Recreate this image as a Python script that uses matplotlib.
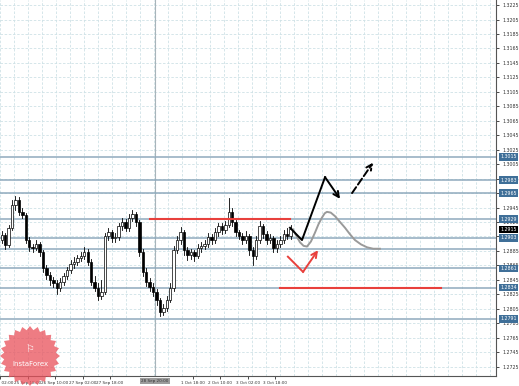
import numpy as np
import matplotlib.pyplot as plt
from matplotlib.patches import Polygon, Rectangle
from matplotlib.transforms import blended_transform_factory

# 2-hour candles
closes = [1.2907, 1.2893, 1.2917, 1.2948, 1.2955, 1.2939, 1.2935, 1.2900, 1.2890, 1.2889,
          1.2895, 1.2883, 1.2861, 1.2852, 1.2845, 1.2841, 1.2834, 1.2842, 1.2850, 1.2859,
          1.2867, 1.2870, 1.2875, 1.2878, 1.2883, 1.2870, 1.2842, 1.2834, 1.2823, 1.2828,
          1.2906, 1.2911, 1.2903, 1.2904, 1.2919, 1.2925, 1.2917, 1.2931, 1.2936, 1.2925,
          1.2883, 1.2856, 1.2842, 1.2835, 1.2828, 1.2817, 1.2800, 1.2806, 1.2817, 1.2834,
          1.2886, 1.2900, 1.2911, 1.2886, 1.2879, 1.2883, 1.2878, 1.2889, 1.2892, 1.2895,
          1.2904, 1.2900, 1.2911, 1.2919, 1.2914, 1.2921, 1.2939, 1.2925, 1.2911, 1.2906,
          1.2900, 1.2906, 1.2886, 1.2878, 1.2900, 1.2919, 1.2908, 1.2900, 1.2903, 1.2889,
          1.2895, 1.2900, 1.2908, 1.2906, 1.2915]
highs = [1.2912, 1.2910, 1.2921, 1.2956, 1.2961, 1.2959, 1.2944, 1.2937, 1.2904, 1.2895,
         1.2900, 1.2898, 1.2886, 1.2866, 1.2856, 1.2849, 1.2845, 1.2847, 1.2855, 1.2863,
         1.2872, 1.2876, 1.2880, 1.2884, 1.2890, 1.2887, 1.2874, 1.2850, 1.2840, 1.2845,
         1.2910, 1.2916, 1.2914, 1.2910, 1.2924, 1.2930, 1.2929, 1.2936, 1.2942, 1.2939,
         1.2928, 1.2888, 1.2862, 1.2848, 1.2840, 1.2832, 1.2820, 1.2812, 1.2822, 1.2840,
         1.2892, 1.2906, 1.2918, 1.2914, 1.2890, 1.2888, 1.2886, 1.2894, 1.2898, 1.2900,
         1.2910, 1.2908, 1.2916, 1.2924, 1.2923, 1.2927, 1.2958, 1.2944, 1.2928, 1.2914,
         1.2910, 1.2912, 1.2909, 1.2890, 1.2905, 1.2926, 1.2922, 1.2912, 1.2908, 1.2906,
         1.2900, 1.2905, 1.2914, 1.2917, 1.2921]
lows = [1.2896, 1.2888, 1.2890, 1.2914, 1.2942, 1.2934, 1.2930, 1.2896, 1.2885, 1.2884,
        1.2886, 1.2878, 1.2856, 1.2846, 1.2838, 1.2835, 1.2826, 1.2830, 1.2838, 1.2846,
        1.2855, 1.2862, 1.2865, 1.2871, 1.2874, 1.2866, 1.2838, 1.2829, 1.2817, 1.2818,
        1.2825, 1.2900, 1.2898, 1.2898, 1.2900, 1.2914, 1.2912, 1.2913, 1.2926, 1.2920,
        1.2878, 1.2850, 1.2836, 1.2830, 1.2822, 1.2810, 1.2795, 1.2797, 1.2802, 1.2814,
        1.2830, 1.2882, 1.2895, 1.2880, 1.2872, 1.2874, 1.2871, 1.2875, 1.2884, 1.2887,
        1.2891, 1.2894, 1.2896, 1.2906, 1.2909, 1.2910, 1.2918, 1.2920, 1.2906, 1.2901,
        1.2895, 1.2896, 1.2880, 1.2866, 1.2874, 1.2896, 1.2903, 1.2895, 1.2896, 1.2884,
        1.2884, 1.2891, 1.2896, 1.2901, 1.2902]
first_open = 1.2900

# horizontal levels (price, boxed label?)
levels = [1.3015, 1.2983, 1.2965, 1.2929, 1.2903, 1.2888, 1.2861, 1.2834, 1.2791]
boxed = [True, True, True, True, True, False, True, True, True]
last_price = 1.2915

# forecast drawings (x in hours, y in price)
black_x = [168.6, 175.6, 189.0, 197.7]
black_y = [1.2917, 1.2900, 1.2987, 1.2957]
dash_x = [204.7, 216.9]
dash_y = [1.2965, 1.3007]
gray_x = [170.3, 172.5, 174.4, 176.5, 178.5, 180.8, 183.1, 185.2, 187.2, 188.8, 190.1,
          192.3, 194.8, 197.7, 200.6, 203.5, 206.4, 209.9, 213.4, 217.0, 220.9]
gray_y = [1.2915, 1.2905, 1.2897, 1.2892, 1.2891, 1.2898, 1.2910, 1.2922, 1.2931, 1.2937, 1.2939,
          1.2938, 1.2933, 1.2925, 1.2917, 1.2908, 1.2900, 1.2894, 1.2890, 1.2888, 1.2888]
red_x = [167.4, 176.2, 184.9]
red_y = [1.2877, 1.2856, 1.2886]
red_lines = [(87.2, 168.6, 1.2929), (162.8, 256.4, 1.2834)]

yticks = np.arange(1.2725, 1.3226, 0.002)
xtick_pos = [0, 16, 32, 48, 64, 112, 128, 144, 160]
xtick_lab = ["25 Sep 02:00", "25 Sep 18:00", "26 Sep 10:00", "27 Sep 02:00", "27 Sep 18:00",
             "1 Oct 18:00", "2 Oct 10:00", "3 Oct 02:00", "3 Oct 18:00"]

fig = plt.figure(figsize=(5.19, 3.86), dpi=100)
ax = fig.add_axes([0, 10 / 386, 496 / 519, 376 / 386])
ax.set_xlim(0, 288.4)
ax.set_ylim(1.2712, 1.3232)

# grid
for y in yticks:
    ax.axhline(y, color="#cfe2e6", lw=0.6, ls=(0, (3, 2)), zorder=0)
for x in np.arange(0, 289, 8.14):
    ax.axvline(x, color="#cfe2e6", lw=0.6, ls=(0, (3, 2)), zorder=0)
ax.axvline(90, color="#a8b4ba", lw=0.8, zorder=1)

for lv in levels:
    ax.axhline(lv, color="#8faabd", lw=1.1, zorder=1)

# candles
opens = [first_open] + closes[:-1]
for i, (o, h, l, c) in enumerate(zip(opens, highs, lows, closes)):
    x = 2 * i + 1
    ax.plot([x, x], [l, h], color="black", lw=0.6, zorder=3)
    if c >= o:
        ax.add_patch(Rectangle((x - 0.7, o), 1.4, c - o, facecolor="white",
                               edgecolor="black", lw=0.5, zorder=4))
    else:
        ax.add_patch(Rectangle((x - 0.7, c), 1.4, o - c, facecolor="black",
                               edgecolor="black", lw=0.5, zorder=4))

for x0, x1, y in red_lines:
    ax.plot([x0, x1], [y, y], color="#e8403c", lw=1.5, zorder=5)

ax.plot(gray_x, gray_y, color="#9a9a9a", lw=1.4, zorder=5)
ax.plot(black_x[:-1], black_y[:-1], color="black", lw=1.4, zorder=6)
ax.annotate("", xy=(black_x[-1], black_y[-1]), xytext=(black_x[-2], black_y[-2]),
            arrowprops=dict(arrowstyle="->", color="black", lw=1.4,
                            mutation_scale=10, shrinkA=0, shrinkB=0), zorder=6)
ax.annotate("", xy=(dash_x[1], dash_y[1]), xytext=(dash_x[0], dash_y[0]),
            arrowprops=dict(arrowstyle="->", color="black", lw=1.4, ls="--",
                            mutation_scale=10, shrinkA=0, shrinkB=0), zorder=6)
ax.plot(red_x[:-1], red_y[:-1], color="#e8403c", lw=1.4, zorder=6)
ax.annotate("", xy=(red_x[-1], red_y[-1]), xytext=(red_x[-2], red_y[-2]),
            arrowprops=dict(arrowstyle="->", color="#e8403c", lw=1.4,
                            mutation_scale=10, shrinkA=0, shrinkB=0), zorder=6)

# axes styling
for s in ["top", "left"]:
    ax.spines[s].set_visible(False)
ax.spines["right"].set_color("#555555")
ax.spines["bottom"].set_color("#555555")
ax.spines["right"].set_linewidth(0.8)
ax.spines["bottom"].set_linewidth(0.8)
ax.yaxis.tick_right()
ax.set_yticks(yticks)
ax.set_yticklabels([f"{v:.4f}" for v in yticks], fontsize=3.4, color="#333333")
ax.tick_params(axis="y", length=2, width=0.5, pad=3)
ax.set_xticks(xtick_pos)
ax.set_xticklabels(xtick_lab, fontsize=3.0, color="#333333")
ax.tick_params(axis="x", length=2, width=0.5, pad=1.5)

tr = blended_transform_factory(ax.transAxes, ax.transData)
for lv, b in zip(levels, boxed):
    if b:
        ax.text(1.008, lv, f"{lv:.4f}", transform=tr, fontsize=3.4, color="white",
                va="center", ha="left", zorder=10, clip_on=False,
                bbox=dict(boxstyle="square,pad=0.25", fc="#3f6f98", ec="none"))
ax.text(1.008, last_price, f"{last_price:.4f}", transform=tr, fontsize=3.4, color="white",
        va="center", ha="left", zorder=11, clip_on=False,
        bbox=dict(boxstyle="square,pad=0.25", fc="black", ec="none"))

# time label under the separator
ax.text(90, -0.008, "28 Sep 20:00", transform=blended_transform_factory(ax.transData, ax.transAxes),
        fontsize=3.0, color="#333333", ha="center", va="top", clip_on=False,
        bbox=dict(boxstyle="square,pad=0.35", fc="#9c9c9c", ec="none"))

# watermark
cx, cy = 0.30, 0.30
ang = np.linspace(0, 2 * np.pi, 49)[:-1]
rad = np.where(np.arange(48) % 2 == 0, 0.30, 0.26)
star = np.column_stack([cx + rad * np.cos(ang), cy + rad * np.sin(ang)])
fig.patches.append(Polygon(star, closed=True, transform=fig.dpi_scale_trans,
                           fc="#e9505a", ec="none", alpha=0.75, zorder=20))
fig.text(cx / 5.19, (cy - 0.08) / 3.86, "InstaForex", color="white", fontsize=5,
         ha="center", va="center", zorder=21)
fig.text(cx / 5.19, (cy + 0.07) / 3.86, "\u2690", color="white", fontsize=7,
         ha="center", va="center", zorder=21)

fig.savefig("out.png", dpi=100)
